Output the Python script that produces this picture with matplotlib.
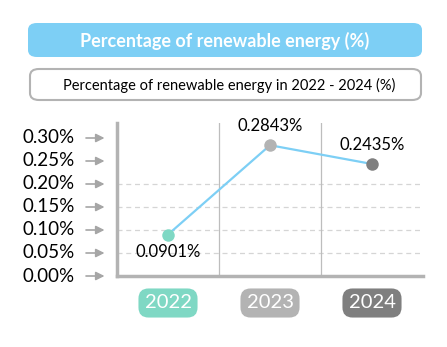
import matplotlib.pyplot as plt
from matplotlib.patches import FancyBboxPatch

years = ["2022", "2023", "2024"]
shares = [0.0901, 0.2843, 0.2435]
tick_vals = [0.00, 0.05, 0.10, 0.15, 0.20, 0.25, 0.30]
tick_labels = ["0.00%", "0.05%", "0.10%", "0.15%", "0.20%", "0.25%", "0.30%"]
year_colors = ["#7fd8c4", "#b3b3b3", "#7f7f7f"]

title = "Percentage of renewable energy (%)"
subtitle = "Percentage of renewable energy in 2022 - 2024 (%)"

plt.rcParams['font.family'] = ['Lato', 'DejaVu Sans']

W, H = 447, 347
fig = plt.figure(figsize=(W / 100, H / 100), dpi=100)

# header banner
banner = FancyBboxPatch((28 / W, 1 - 57 / H), 394 / W, 34 / H,
                        boxstyle="round,pad=0,rounding_size=0.02",
                        transform=fig.transFigure, facecolor="#7dcff5",
                        edgecolor="none")
fig.patches.append(banner)
fig.text(225 / W, 1 - 41 / H, title, color="white", fontsize=13,
         fontweight="bold", ha="center", va="center")

# subtitle box
sub = FancyBboxPatch((30 / W, 1 - 100 / H), 391 / W, 31 / H,
                     boxstyle="round,pad=0,rounding_size=0.02",
                     transform=fig.transFigure, facecolor="white",
                     edgecolor="#b3b3b3", linewidth=1.5)
fig.patches.append(sub)
fig.text(229 / W, 1 - 85 / H, subtitle, color="black", fontsize=10.5,
         ha="center", va="center")

ax = fig.add_axes([117 / W, 1 - 276 / H, 306 / W, 153 / H])
x = list(range(len(years)))
ax.set_xlim(-0.5, len(years) - 0.5)
ax.set_ylim(0, 0.3326)

# dashed guides and column separators
for v in tick_vals[1:5]:
    ax.axhline(v, color="#d5d5d5", lw=0.9, ls=(0, (4, 3)), zorder=0)
for sep in [0.5, 1.5]:
    ax.axvline(sep, color="#bdbdbd", lw=0.9, zorder=0)

ax.plot(x, shares, color="#7dcff5", lw=1.6, zorder=2)
for xi, val, c in zip(x, shares, year_colors):
    ax.plot(xi, val, "o", ms=9, color=c, mec="none", zorder=3)

# value labels
ax.annotate(f"{shares[0]:.4f}%", (x[0], shares[0]), xytext=(0, -17),
            textcoords="offset pixels", ha="center", va="center", fontsize=12)
for xi, val in zip(x[1:], shares[1:]):
    ax.annotate(f"{val:.4f}%", (xi, val), xytext=(0, 19),
                textcoords="offset pixels", ha="center", va="center", fontsize=12)

for s in ["top", "right"]:
    ax.spines[s].set_visible(False)
for s in ["left", "bottom"]:
    ax.spines[s].set_color("#b3b3b3")
    ax.spines[s].set_linewidth(2.5)
ax.set_xticks([])
ax.set_yticks([])

# y labels with arrows
for v, lab in zip(tick_vals, tick_labels):
    ax.annotate(lab, (-0.5, v), xytext=(-42, 0), textcoords="offset pixels",
                ha="right", va="center", fontsize=13.5, annotation_clip=False)
    ax.annotate("", xy=(-0.5, v), xycoords="data", xytext=(-31, 0),
                textcoords="offset pixels", annotation_clip=False,
                arrowprops=dict(arrowstyle="-|>,head_length=0.5,head_width=0.25",
                                color="#a6a6a6", lw=1.2, shrinkA=0, shrinkB=9))

# year badges
for xi, yr, c in zip(x, years, year_colors):
    ax.annotate(yr, (xi, 0), xytext=(0, -27), textcoords="offset pixels",
                ha="center", va="center", fontsize=14.5, color="white",
                annotation_clip=False,
                bbox=dict(boxstyle="round,pad=0.3,rounding_size=0.5",
                          fc=c, ec="none"))

fig.savefig("out.png", dpi=100)
